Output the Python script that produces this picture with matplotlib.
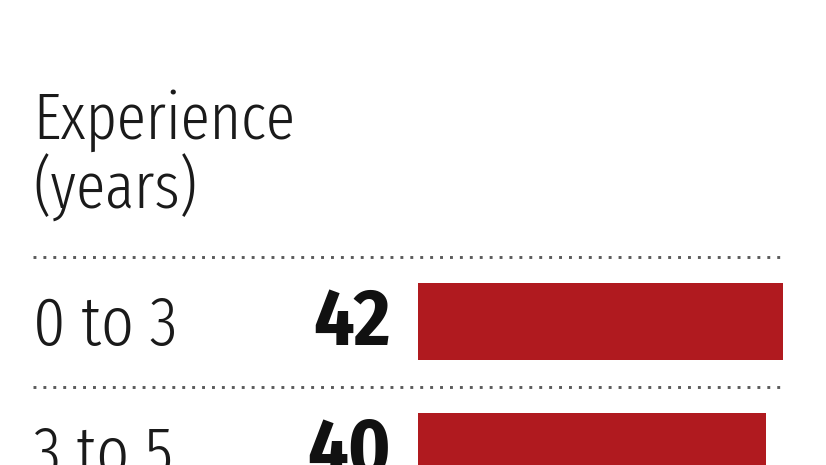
import matplotlib
matplotlib.use("Agg")
import matplotlib.pyplot as plt
import matplotlib.transforms as mtransforms

# data
categories = ["0 to 3", "3 to 5"]
values = [42, 40]
header = ["Experience", "(years)"]

W, H = 826, 465
plt.rcParams['font.family'] = ['Fira Sans Extra Condensed', 'DejaVu Sans']
value_font = ['Fira Sans Condensed', 'DejaVu Sans']

fig = plt.figure(figsize=(W / 100, H / 100), dpi=100)
ax = fig.add_axes([0, 0, 1, 1])
ax.axis("off")

# scale: bar starts at 418px, 365px for 42; rows 130px apart, first centred at 321.5px
px_per_unit = 365 / 42
ax.set_xlim(-418 / px_per_unit, (W - 418) / px_per_unit)
ax.set_ylim((H - 321.5) / 130, -321.5 / 130)

rows = list(range(len(categories)))
ax.barh(rows, values, height=0.59, color="#b01a1f", left=0)

# dotted separators above each row
trans = mtransforms.blended_transform_factory(ax.transAxes, ax.transData)
for r in rows:
    ax.plot([33 / W, 785 / W], [r - 0.5, r - 0.5], transform=trans,
            color="#5a5a5a", lw=2.1, linestyle=(0, (1, 2.4)), solid_capstyle="butt")

# row labels and values
for r, cat, v in zip(rows, categories, values):
    ax.text(33 / W, r + 23.5 / 130, cat, transform=trans, ha="left", va="baseline",
            fontsize=50, fontweight=300, color="#1a1a1a")
    ax.text(391 / W, r + 23.5 / 130, str(v), transform=trans, ha="right", va="baseline",
            fontsize=57, fontweight="bold", color="#111111", family=value_font)

# header
fig.text(33 / W, 1 - 139 / H, header[0], ha="left", va="baseline", fontsize=47,
         fontweight=300, color="#1a1a1a")
fig.text(33 / W, 1 - 209 / H, header[1], ha="left", va="baseline", fontsize=47,
         fontweight=300, color="#1a1a1a")

fig.savefig("out.png", dpi=100, facecolor="white")
